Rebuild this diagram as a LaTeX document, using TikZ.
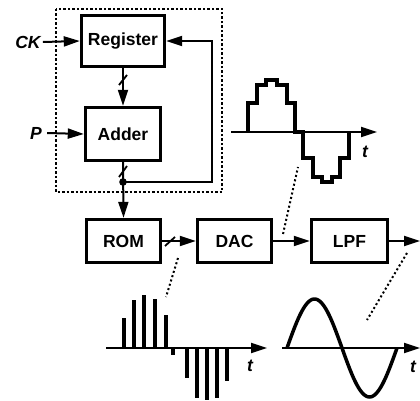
\documentclass[tikz,border=0pt]{standalone}
\usepackage{fontspec}
\setmainfont{Liberation Sans}
\usetikzlibrary{arrows.meta}
\begin{document}
\begin{tikzpicture}[x=1pt,y=-1pt,
  blk/.style={draw, line width=3.4pt, inner sep=0pt, font=\fontsize{17.5}{20}\selectfont\bfseries},
  conn/.style={line width=2pt, -{Triangle[length=16pt,width=10pt]}},
  lbl/.style={font=\fontsize{17.5}{20}\selectfont\bfseries\itshape, inner sep=0pt},
  leader/.style={line width=2pt, dash pattern=on 2pt off 2.5pt},
  wave/.style={line width=3.5pt, line join=miter},
  slash/.style={line width=1.8pt}]
\useasboundingbox (0,0) rectangle (420,401);
% dashed enclosure
\draw[line width=2.2pt, dash pattern=on 2.5pt off 2pt] (56,9) rectangle (222,192);
% blocks
\node[blk, minimum width=83pt, minimum height=51pt] (reg) at (123,41) {Register};
\node[blk, minimum width=75pt, minimum height=53pt] (add) at (123,134) {Adder};
\node[blk, minimum width=74pt, minimum height=43pt] (rom) at (123.5,241) {ROM};
\node[blk, minimum width=74pt, minimum height=43pt] (dac) at (234.5,241) {DAC};
\node[blk, minimum width=76pt, minimum height=43pt] (lpf) at (349.5,241) {LPF};
% inputs
\node[lbl] (ck) at (28,42) {CK};
\node[lbl] (p) at (36,133) {P};
\draw[conn] (ck.east) ++(2,0) coordinate (ckst) -- (reg.west);
\draw[conn] (p.east) ++(5,0) coordinate (pst) -- (add.west);
% internal
\draw[conn] (reg.south) -- (add.north);
\draw[slash] (119,85) -- (127,75);
\coordinate (dot) at (123,182);
\draw[conn] (add.south) -- (rom.north);
\draw[slash] (119,177) -- (127,166);
\fill (dot) circle (3.8pt);
\coordinate (fbr) at (212,182);
\coordinate (fbt) at (212,41);
\draw[conn] (dot) -- (fbr) -- (fbt) -- (reg.east);
% chain
\draw[conn] (rom.east) -- (dac.west);
\draw[slash] (165,246) -- (175,237);
\draw[conn] (dac.east) -- (lpf.west);
\coordinate (out) at (420,241);
\draw[conn] (lpf.east) -- (out);
% leaders
\draw[leader] (283,234) -- (298,167);
\draw[leader] (178,258) -- (166,297);
\draw[leader] (407,253) -- (367,320);
% staircase waveform
\coordinate (sa0) at (231,132);
\coordinate (sa1) at (377,132);
\draw[conn] (sa0) -- (sa1);
\node[lbl] (t1) at (365,152) {t};
\draw[wave] (248,132) -- (248,103) -- (257,103) -- (257,85) -- (266,85) -- (266,80) -- (277,80) -- (277,85) -- (287,85) -- (287,103) -- (295,103) -- (295,132) -- (303,132) -- (303,158) -- (313,158) -- (313,177) -- (322,177) -- (322,182) -- (332,182) -- (332,177) -- (340,177) -- (340,158) -- (349,158) -- (349,132);
% sampled pulses
\coordinate (pa0) at (106,348);
\coordinate (pa1) at (267,348);
\draw[conn] (pa0) -- (pa1);
\node[lbl] (t2) at (250,366) {t};
\foreach \xx/\yy in {124/318,134/300,144/295,155/299,166/315,173/355,187/378,197/398,207/400,217/398,227/381}
  \draw[line width=3.3pt] (\xx,348) -- (\xx,\yy);
% sine
\coordinate (sn0) at (282,348);
\coordinate (sn1) at (420,348);
\draw[conn] (sn0) -- (sn1);
\node[lbl] (t3) at (413,367) {t};
\draw[wave] plot[domain=0:360, samples=80, smooth] ({287+0.30556*\x},{348-49*sin(\x)});
\end{tikzpicture}
\end{document}
